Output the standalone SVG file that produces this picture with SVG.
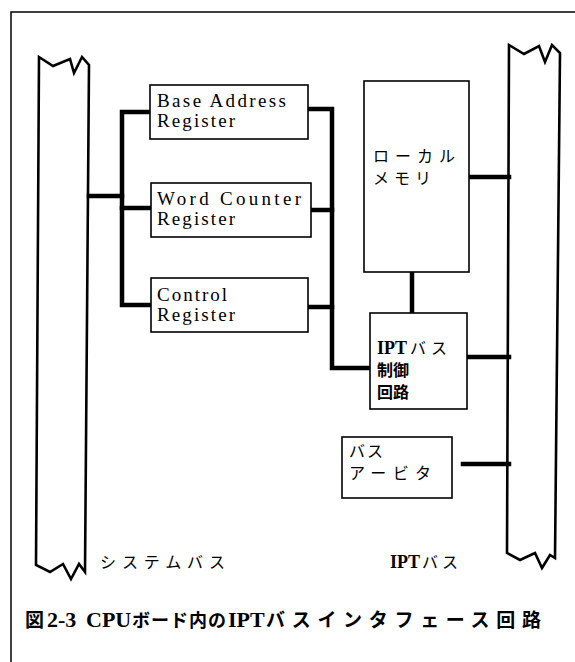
<svg xmlns="http://www.w3.org/2000/svg" width="575" height="662" viewBox="0 0 575 662">
<style>
.frame{fill:none;stroke:#000;stroke-width:1.5}
.bus{fill:none;stroke:#000;stroke-width:2.6;stroke-linejoin:miter}
.box{fill:#fff;stroke:#000;stroke-width:1.6}
.wire{fill:none;stroke:#000;stroke-width:4.5;stroke-linecap:square}
.en{font-family:"Liberation Serif","Noto Sans CJK JP",serif;font-size:19px;fill:#000}
.jp{font-family:"Noto Sans CJK JP",sans-serif;font-size:16px;fill:#000}
.mix{font-family:"Liberation Serif","Noto Sans CJK JP",serif;font-size:18px;font-weight:bold;fill:#000}
.cap{font-family:"Liberation Serif","Noto Sans CJK JP",serif;font-weight:bold;fill:#000}
</style>
<rect width="575" height="662" fill="#fff"/>
<path class="frame" d="M11,662 V12 H575"/>

<g id="system-bus">
<path class="bus" d="M39,57 L53,66 L70,59 L74,73 L82,57 L89,65 L85,572 L79,564 L71,579 L63,564 L50,572 L36,565 Z"/>
<text class="jp" x="100" y="568" textLength="125" lengthAdjust="spacing">システムバス</text>
</g>

<g id="ipt-bus">
<path class="bus" d="M509,45 L524,54 L539,46 L545,62 L552,45 L560,53 L555,558 L550,555 L542,568 L535,553 L520,560 L507,553 Z"/>
<text x="390" y="568"><tspan class="mix" font-size="18">IPT</tspan><tspan class="jp" dx="2" font-size="15">バ</tspan><tspan class="jp" dx="4" font-size="15">ス</tspan></text>
</g>

<g id="connectors">
<path class="wire" d="M89,196 H122"/>
<path class="wire" d="M150,112 H122 V305 H151"/>
<path class="wire" d="M122,208 H151"/>
<path class="wire" d="M308,109 H332 V368 H370"/>
<path class="wire" d="M311,210 H332"/>
<path class="wire" d="M308,307 H332"/>
<path class="wire" d="M469,177 H509"/>
<path class="wire" d="M412,272 V313"/>
<path class="wire" d="M467,357 H509"/>
<path class="wire" d="M463,464 H509"/>
</g>

<g id="base-address-register">
<rect class="box" x="150" y="85" width="158" height="54"/>
<text class="en" x="157" y="107" textLength="129" lengthAdjust="spacing">Base Address</text>
<text class="en" x="157" y="127" textLength="78" lengthAdjust="spacing">Register</text>
</g>

<g id="word-counter-register">
<rect class="box" x="151" y="183" width="160" height="54"/>
<text class="en" x="157" y="205" textLength="144" lengthAdjust="spacing">Word Counter</text>
<text class="en" x="157" y="225" textLength="78" lengthAdjust="spacing">Register</text>
</g>

<g id="control-register">
<rect class="box" x="151" y="278" width="157" height="54"/>
<text class="en" x="157" y="301" textLength="70" lengthAdjust="spacing">Control</text>
<text class="en" x="157" y="321" textLength="78" lengthAdjust="spacing">Register</text>
</g>

<g id="local-memory">
<rect class="box" x="364" y="81" width="105" height="191"/>
<text class="jp" x="373" y="162" textLength="82" lengthAdjust="spacing">ローカル</text>
<text class="jp" x="373" y="184" textLength="58" lengthAdjust="spacing">メモリ</text>
</g>

<g id="ipt-bus-control">
<rect class="box" x="370" y="313" width="97" height="96"/>
<text x="377" y="354"><tspan class="mix" font-size="19">IPT</tspan><tspan class="jp" dx="3">バ</tspan><tspan class="jp" dx="5">ス</tspan></text>
<text class="jp" x="377" y="376" font-weight="bold" font-size="18">制御</text>
<text class="jp" x="377" y="398" font-weight="bold" font-size="18">回路</text>
</g>

<g id="bus-arbiter">
<rect class="box" x="342" y="437" width="110" height="61"/>
<text class="jp" x="349" y="457" textLength="34" lengthAdjust="spacing">バス</text>
<text class="jp" x="349" y="479" textLength="82" lengthAdjust="spacing">アービタ</text>
</g>

<text class="cap" y="627" font-size="22"><tspan x="25" font-size="19">図</tspan><tspan x="47">2-3</tspan><tspan x="86">CPU</tspan><tspan x="132" font-size="18" textLength="94" lengthAdjust="spacing">ボード内の</tspan><tspan x="228">IPT</tspan><tspan x="266" font-size="19" textLength="275" lengthAdjust="spacing">バスインタフェース回路</tspan></text>
</svg>
